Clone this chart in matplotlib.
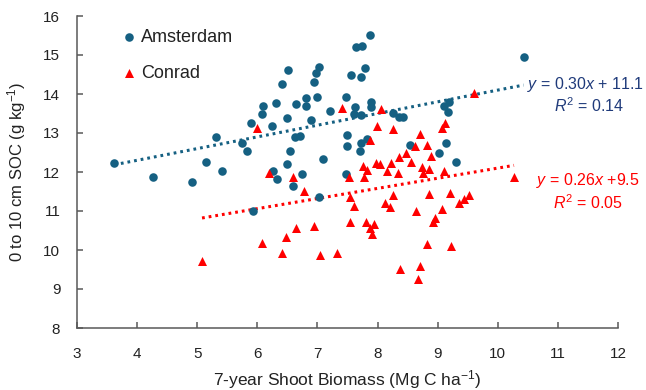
import matplotlib
matplotlib.use("Agg")
import matplotlib.pyplot as plt
import numpy as np

# Amsterdam data (biomass, SOC)
ams_x = [3.62, 4.26, 4.92, 5.14, 5.32, 5.41, 5.75, 5.83, 5.89, 5.92, 6.08, 6.10, 6.24, 6.26,
         6.31, 6.33, 6.41, 6.49, 6.49, 6.51, 6.54, 6.60, 6.63, 6.65, 6.71, 6.74, 6.81, 6.81,
         6.90, 6.94, 6.98, 7.00, 7.02, 7.03, 7.09, 7.21, 7.47, 7.48, 7.49, 7.49, 7.56, 7.60,
         7.63, 7.64, 7.71, 7.72, 7.72, 7.73, 7.74, 7.79, 7.82, 7.875, 7.89, 7.89, 8.26, 8.36,
         8.43, 8.54, 9.02, 9.11, 9.14, 9.17, 9.19, 9.31, 10.43]
ams_y = [12.22, 11.86, 11.74, 12.26, 12.90, 12.03, 12.75, 12.55, 13.26, 11.01, 13.49, 13.69, 13.18, 12.03,
         13.76, 11.82, 14.26, 13.39, 12.20, 14.62, 12.55, 11.64, 12.90, 13.74, 12.92, 11.94, 13.91, 13.69,
         13.33, 14.31, 14.53, 13.93, 14.70, 11.37, 12.33, 13.56, 13.92, 11.95, 12.96, 12.66, 14.50, 13.49,
         13.67, 15.21, 12.54, 12.75, 13.45, 14.44, 15.23, 14.67, 12.85, 15.52, 13.79, 13.67, 13.52, 13.40,
         13.42, 12.70, 12.50, 13.69, 12.74, 13.54, 13.80, 12.26, 14.94]

# Conrad data
con_x = [5.08, 6.00, 6.08, 6.19, 6.41, 6.47, 6.60, 6.65, 6.77, 6.95, 7.05, 7.33, 7.41, 7.52,
         7.54, 7.54, 7.61, 7.76, 7.77, 7.80, 7.82, 7.88, 7.88, 7.91, 7.94, 7.98, 7.99, 8.04,
         8.05, 8.13, 8.15, 8.20, 8.22, 8.25, 8.25, 8.34, 8.36, 8.37, 8.48, 8.56, 8.62, 8.64,
         8.67, 8.70, 8.71, 8.74, 8.75, 8.82, 8.83, 8.85, 8.86, 8.89, 8.93, 8.95, 9.07, 9.08,
         9.11, 9.12, 9.21, 9.22, 9.36, 9.43, 9.52, 9.61, 10.27]
con_y = [9.72, 13.12, 10.17, 11.98, 9.93, 10.33, 11.87, 10.57, 11.52, 10.62, 9.87, 9.92, 13.63, 11.86,
         11.36, 10.71, 11.13, 12.15, 11.86, 10.71, 12.04, 12.82, 10.56, 10.40, 10.66, 12.22, 13.18, 12.20,
         13.62, 11.20, 12.03, 11.09, 12.22, 13.11, 11.42, 11.98, 12.39, 9.52, 12.48, 12.26, 12.67, 10.99,
         9.25, 12.97, 9.60, 12.14, 11.98, 12.68, 10.15, 12.07, 11.43, 12.41, 10.73, 10.83, 11.04, 13.12,
         12.03, 13.25, 11.47, 10.09, 11.21, 11.31, 11.42, 14.03, 11.88]

# Trendline coefficients as printed on the chart
ams_fit = (0.30, 11.1)
con_fit = (0.26, 9.5)

xticks = [3, 4, 5, 6, 7, 8, 9, 10, 11, 12]
yticks = [8, 9, 10, 11, 12, 13, 14, 15, 16]

BLUE = "#156082"
RED = "#FF0000"
NAVY = "#1F3A7A"
AXC = "#595959"
TXT = "#222222"

plt.rcParams['font.family'] = ['Liberation Sans', 'DejaVu Sans']
plt.rcParams['mathtext.fontset'] = 'custom'
plt.rcParams['mathtext.it'] = 'Liberation Sans:italic'
plt.rcParams['mathtext.rm'] = 'Liberation Sans'

fig = plt.figure(figsize=(6.46, 3.90), dpi=100)
ax = fig.add_axes([77/646, 62/390, (618-77)/646, (328-16)/390])

ax.scatter(ams_x, ams_y, s=38, color=BLUE, marker='o', linewidths=0, label='Amsterdam', zorder=3)
ax.scatter(con_x, con_y, s=42, color=RED, marker='^', linewidths=0, label='Conrad', zorder=4)

xa = np.array([min(ams_x), max(ams_x)])
ax.plot(xa, ams_fit[0]*xa + ams_fit[1], color=BLUE, lw=2.2, linestyle=(0, (0.9, 1.3)), zorder=2)
xc = np.array([min(con_x), max(con_x)])
ax.plot(xc, con_fit[0]*xc + con_fit[1], color=RED, lw=2.2, linestyle=(0, (0.9, 1.3)), zorder=2)

ax.set_xlim(3, 12)
ax.set_ylim(8, 16)
ax.set_xticks(xticks)
ax.set_yticks(yticks)
ax.tick_params(direction='in', length=4, width=1.1, color=AXC, labelsize=11, labelcolor=TXT)
ax.tick_params(axis='x', pad=14)
ax.tick_params(axis='y', pad=12)
for s in ['top', 'right']:
    ax.spines[s].set_visible(False)
for s in ['left', 'bottom']:
    ax.spines[s].set_color(AXC)
    ax.spines[s].set_linewidth(1.1)

ax.set_xlabel('7-year Shoot Biomass (Mg C ha$^{-1}$)', fontsize=12.5, color=TXT)
ax.xaxis.label.set_verticalalignment('baseline')
ax.xaxis.set_label_coords(0.5, -(385 - 328) / 312)
ax.set_ylabel('0 to 10 cm SOC (g kg$^{-1}$)', fontsize=12, color=TXT)
ax.yaxis.label.set_verticalalignment('center')
ax.yaxis.set_label_coords(-(77 - 17) / 541, 0.5)

leg = ax.legend(loc='upper left', bbox_to_anchor=(0.055, 1.0), frameon=False, fontsize=13,
                labelspacing=1.08, handletextpad=0.1, handlelength=1.1, borderaxespad=0.3,
                scatterpoints=1)
for t in leg.get_texts():
    t.set_color(TXT)

ax.annotate('$y$ = 0.30$x$ + 11.1', xy=(644, 390-84), xycoords='figure pixels', ha='right', va='center',
            fontsize=11.5, color=NAVY)
ax.annotate('$R^2$ = 0.14', xy=(589, 390-106), xycoords='figure pixels', ha='center', va='center',
            fontsize=11.5, color=NAVY)
ax.annotate('$y$ = 0.26$x$ +9.5', xy=(588, 390-180), xycoords='figure pixels', ha='center', va='center',
            fontsize=11.5, color=RED)
ax.annotate('$R^2$ = 0.05', xy=(588, 390-203), xycoords='figure pixels', ha='center', va='center',
            fontsize=11.5, color=RED)

fig.savefig('out.png', dpi=100)
